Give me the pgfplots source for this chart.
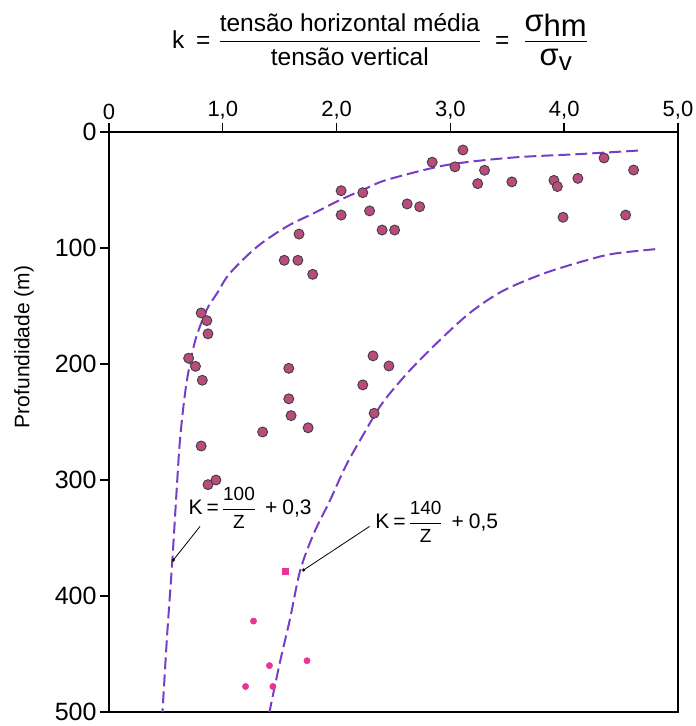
\documentclass[border=0pt]{standalone}
\usepackage{fontspec}
\setmainfont{Liberation Sans}
\usepackage{amsmath}
\usepackage{pgfplots}
\pgfplotsset{compat=1.18}

\definecolor{curva}{RGB}{118,62,200}
\definecolor{ponto}{RGB}{185,75,125}
\definecolor{rosa}{RGB}{235,50,150}

\newcommand{\fr}[2]{\genfrac{}{}{1.1pt}{0}{\text{#1}}{\text{#2}}}
\newcommand{\lab}[2]{K\hspace{4pt}=\hspace{3pt}$\genfrac{}{}{1pt}{0}{\text{\fontsize{19}{20}\selectfont #1}}{\text{\fontsize{19}{20}\selectfont Z}}$\hspace{9pt}+\hspace{5pt}#2}

\begin{document}
\begin{tikzpicture}
\path[use as bounding box] (-109pt,-14pt) rectangle (587pt,712pt);

% titulo
\node[font=\fontsize{24.5}{28}\selectfont] at (271pt,670pt)
  {k\hspace{12pt}=\hspace{8pt}$\fr{tensão horizontal média}{tensão vertical}$\hspace{14pt}=\hspace{14pt}$\genfrac{}{}{1.1pt}{0}{\text{\fontsize{31}{31}\selectfont σ\raisebox{-0.3ex}{hm}}}{\text{\fontsize{31}{31}\selectfont σ\raisebox{-0.35ex}{\fontsize{26}{26}\selectfont v}}}$};
\node[rotate=90,font=\fontsize{21}{24}\selectfont] at (-85pt,365pt) {Profundidade (m)};

\begin{axis}[
  at={(0pt,0pt)}, anchor=south west,
  scale only axis, width=569pt, height=580pt,
  xmin=0, xmax=5, ymin=0, ymax=500,
  y dir=reverse,
  axis line style={line width=1.3pt},
  xtick={0,1,2,3,4,5},
  xticklabels={0,{1,0},{2,0},{3,0},{4,0},{5,0}},
  ytick={0,100,200,300,400,500},
  yticklabels={0,100,200,300,400,500},
  xtick pos=top, ytick pos=left,
  xticklabel pos=top,
  tick align=outside,
  major tick length=9pt,
  tick style={black, line width=1.4pt},
  xticklabel style={font=\fontsize{22}{22}\selectfont},
  yticklabel style={font=\fontsize{25}{25}\selectfont},
  clip=false,
]

% tracos das marcas dos eixos
\pgfplotsinvokeforeach{0,1,2,3,4,5}{
  \draw[line width=1.4pt] (axis cs:#1,0) -- ++(0pt,7pt);
}
\pgfplotsinvokeforeach{0,100,200,300,400,500}{
  \draw[line width=1.4pt] (axis cs:0,#1) -- ++(-9pt,0pt);
}

% K = 100/Z + 0,3 (tracado)
\addplot[curva, line width=2pt, dash pattern=on 12pt off 5pt, smooth, tension=0.5] coordinates {
  (4.65,16) (4.14,19) (3.55,22) (2.97,28.4) (2.45,41) (2.26,48.6)
  (2.03,58.6) (1.80,70) (1.56,81.6) (1.30,99) (1.06,122) (0.95,139)
  (0.86,153) (0.76,179) (0.69,211) (0.65,240) (0.62,270) (0.60,300)
  (0.556,370) (0.51,435) (0.47,500)
};

% K = 140/Z + 0,5
\addplot[curva, line width=2pt, dash pattern=on 12pt off 5pt, smooth, tension=0.5] coordinates {
  (4.80,101) (4.43,105) (4.18,111) (3.82,122) (3.46,137) (3.17,156)
  (2.88,182) (2.62,208) (2.40,234) (2.24,260) (2.08,288) (1.94,318)
  (1.80,346) (1.68,378) (1.59,420) (1.50,458) (1.41,500)
};

% medicoes
\addplot[only marks, mark=*, mark size=5pt,
  mark options={fill=ponto, draw=black!75, line width=0.9pt}] coordinates {
  (3.11,15.5) (2.84,26) (3.04,30) (3.30,33) (3.24,44.5) (3.54,43)
  (3.91,41.7) (3.94,47) (4.12,40) (4.35,22.4) (4.61,32.8) (3.99,73.5)
  (4.54,71.6) (2.62,62) (2.73,64.4) (2.40,84.5) (2.51,84.5) (2.04,50.6)
  (2.23,52.3) (2.04,71.6) (2.29,68) (1.67,88) (1.54,110.6) (1.66,110.6)
  (1.79,122.7) (0.81,156) (0.86,162.6) (0.87,174) (0.70,195) (0.76,202)
  (0.82,214) (1.58,203.7) (1.58,230) (1.60,244.5) (1.75,255) (1.35,258.6)
  (2.32,193) (2.46,201.7) (2.23,218) (2.33,242.5) (0.81,270.7) (0.87,304)
  (0.94,300)
};

\addplot[only marks, mark=square*, mark size=3pt, rosa] coordinates {(1.55,379)};
\addplot[only marks, mark=*, mark size=3.2pt, rosa] coordinates {
  (1.27,421.6) (1.74,455.8) (1.41,460) (1.20,478) (1.44,478)
};

% rotulos das curvas
\node[font=\fontsize{21}{22}\selectfont] at (axis cs:1.24,324) {\lab{100}{0,3}};
\draw[line width=0.8pt] (axis cs:0.80,340) -- (axis cs:0.565,369);
\fill (axis cs:0.565,369) circle (1.8pt);

\node[font=\fontsize{21}{22}\selectfont] at (axis cs:2.88,336) {\lab{140}{0,5}};
\draw[line width=0.8pt] (axis cs:2.29,340) -- (axis cs:1.71,377.6);
\fill (axis cs:1.71,377.6) circle (1.8pt);

\end{axis}
\end{tikzpicture}
\end{document}
